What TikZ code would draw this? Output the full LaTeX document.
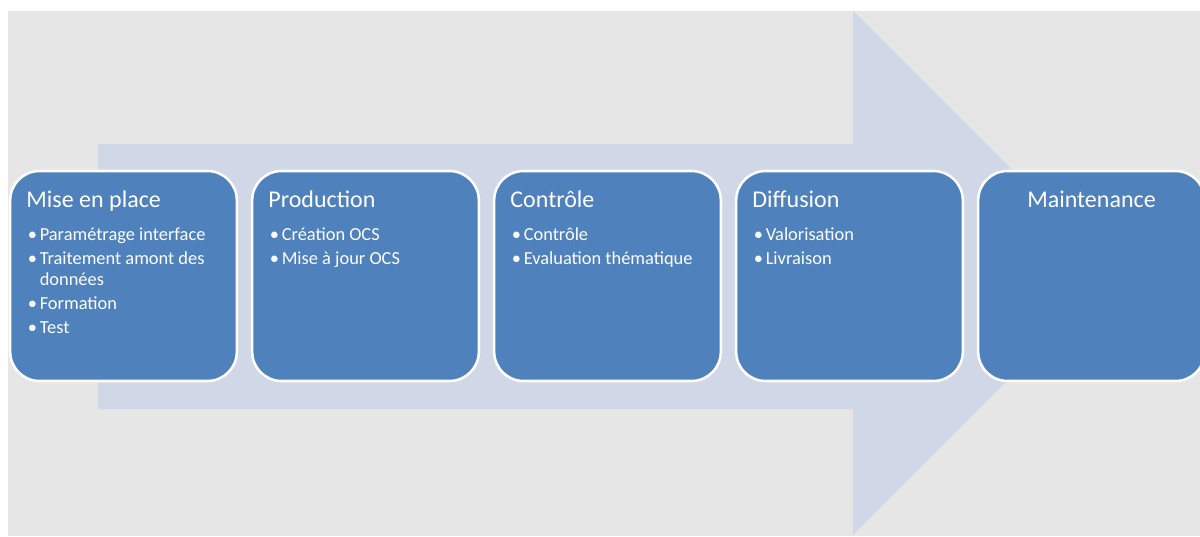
\documentclass[tikz,border=0pt]{standalone}
\usepackage{fontspec}
\setmainfont{Carlito}
\usetikzlibrary{positioning}
\definecolor{fond}{HTML}{E6E6E6}
\definecolor{fleche}{HTML}{D0D8E8}
\definecolor{etape}{HTML}{4F81BD}
\newcommand\puce[1]{\makebox[9pt][l]{\textbullet}#1}

\begin{document}
\begin{tikzpicture}[x=0.75pt,y=-0.75pt,
  etape/.style={draw=white,line width=1.9pt,fill=etape,rounded corners=22pt,
    minimum width=170pt,minimum height=157.5pt,inner sep=0pt,outer sep=0pt},
  titre/.style={text=white,font=\fontsize{18}{20}\selectfont,inner sep=0pt},
  coin/.style={anchor=base west,xshift=12pt,yshift=-27pt},
  liste/.style={text=white,font=\fontsize{13.8}{16.1}\selectfont,text width=150pt,
    align=flush left,inner sep=0pt,anchor=base west,xshift=13pt,yshift=-51.75pt}]
\useasboundingbox (0,0) rectangle (1200,536);
\clip (0,0) rectangle (1200,536);
\fill[fond] (8,11) rectangle (1200,536);
\fill[fleche] (98,144)--(853,144)--(853,11)--(1115,273)--(853,535)--(853,409)--(98,409)--cycle;

\node[etape] (m1) at (123.5,276) {};
\node[etape,right=11.5pt of m1] (m2) {};
\node[etape,right=11.5pt of m2] (m3) {};
\node[etape,right=11.5pt of m3] (m4) {};
\node[etape,right=11.5pt of m4] (m5) {};

\node[titre,coin] (t1) at (m1.north west) {Mise en place};
\node[liste] (l1) at (m1.north west) {\puce{Paramétrage interface}\\[1.9pt]
  \puce{Traitement amont des}\\ \hspace*{9pt}données\\[1.9pt]
  \puce{Formation}\\[1.9pt] \puce{Test}};
\node[titre,coin] (t2) at (m2.north west) {Production};
\node[liste] (l2) at (m2.north west) {\puce{Création OCS}\\[1.9pt] \puce{Mise à jour OCS}};
\node[titre,coin] (t3) at (m3.north west) {Contrôle};
\node[liste] (l3) at (m3.north west) {\puce{Contrôle}\\[1.9pt] \puce{Evaluation thématique}};
\node[titre,coin] (t4) at (m4.north west) {Diffusion};
\node[liste] (l4) at (m4.north west) {\puce{Valorisation}\\[1.9pt] \puce{Livraison}};
\node[titre,anchor=base,yshift=-27pt] (t5) at (m5.north) {Maintenance};
\end{tikzpicture}
\end{document}
